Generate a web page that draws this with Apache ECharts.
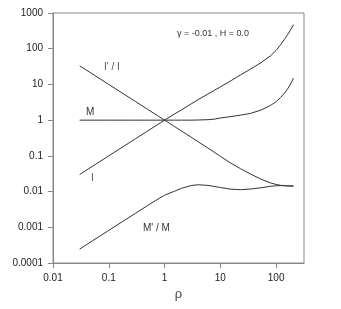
<!DOCTYPE html>
<html>
<head>
<meta charset="utf-8">
<script src="https://cdn.jsdelivr.net/npm/echarts@6/dist/echarts.min.js"></script>
<style>
html,body{margin:0;padding:0;background:#fff;}
#c{width:341px;height:309px;}
</style>
</head>
<body>
<div id="c"></div>
<script>
// rho values (x)
var rho = [0.03, 0.1, 0.3, 0.5, 0.7, 1, 1.5, 2, 3, 4, 6, 8, 10, 15, 23, 35, 54, 80, 100, 120, 140, 160, 180, 205];
// series values
var seriesI   = [0.03, 0.1, 0.3, 0.5, 0.7, 1, 1.48, 1.93, 2.85, 3.75, 5.4, 7.0, 8.5, 12.3, 18.5, 27, 41, 64, 90, 128, 180, 245, 330, 470];
var seriesM   = [1, 1, 1, 1, 1, 1, 1, 1, 1, 1.01, 1.03, 1.07, 1.15, 1.25, 1.38, 1.55, 1.92, 2.6, 3.3, 4.3, 5.6, 7.4, 10, 15];
var seriesIpI = [33.3, 10, 3.33, 2, 1.43, 1, 0.667, 0.5, 0.333, 0.249, 0.165, 0.123, 0.097, 0.0645, 0.0437, 0.0309, 0.0221, 0.0174, 0.0158, 0.0150, 0.01462, 0.01439, 0.01429, 0.01426];
var seriesMpM = [0.000245, 0.00082, 0.00245, 0.0041, 0.0057, 0.0079, 0.0102, 0.0123, 0.0148, 0.0155, 0.0149, 0.0138, 0.013, 0.0117, 0.0113, 0.0118, 0.0128, 0.0141, 0.0145, 0.0147, 0.0146, 0.0145, 0.0144, 0.0143];
// tick labels
var xTicks = ['0.01', '0.1', '1', '10', '100'];
var yTicks = ['0.0001', '0.001', '0.01', '0.1', '1', '10', '100', '1000'];
// text
var curveLabels = ["I' / I", 'M', 'I', "M' / M"];
var annotation = '\u03b3 = -0.01 , H = 0.0';
var xName = '\u03c1';

function pairs(ys){ return rho.map(function(x,i){ return [x, ys[i]]; }); }
function fmt(list){
  return function(v){
    var e = Math.round(Math.log10(v));
    var s = (e >= 0) ? String(Math.pow(10, e)) : (Math.pow(10, e)).toFixed(-e);
    return list.indexOf(s) >= 0 ? s : '';
  };
}

var axisColor = '#888';
var lineColor = '#333';
var font = 'Liberation Sans, Arial, sans-serif';

var chart = echarts.init(document.getElementById('c'), null, {renderer: 'canvas'});
function mkSeries(name, ys){
  return {
    name: name, type: 'line', data: pairs(ys), showSymbol: false, symbol: 'none',
    smooth: false,
    lineStyle: {color: lineColor, width: 1}, animation: false
  };
}
chart.setOption({
  animation: false,
  backgroundColor: '#fff',
  grid: {left: 53, right: 37, top: 13, bottom: 46, show: true, borderColor: axisColor, borderWidth: 1},
  xAxis: {
    type: 'log', min: 0.01, max: 316.2278, logBase: 10,
    name: xName, nameLocation: 'middle', nameGap: 25,
    nameTextStyle: {fontFamily: font, fontSize: 13, color: '#444'},
    axisLine: {show: true, lineStyle: {color: axisColor}},
    axisTick: {show: true, inside: false, length: 5, lineStyle: {color: axisColor}},
    axisLabel: {formatter: fmt(xTicks), fontFamily: font, fontSize: 10, color: '#222', margin: 10, showMaxLabel: false},
    splitLine: {show: false}, minorTick: {show: false}
  },
  yAxis: {
    type: 'log', min: 0.0001, max: 1000, logBase: 10,
    axisLine: {show: true, lineStyle: {color: axisColor}},
    axisTick: {show: true, inside: false, length: 5, lineStyle: {color: axisColor}},
    axisLabel: {formatter: fmt(yTicks), fontFamily: font, fontSize: 10, color: '#222', margin: 10},
    splitLine: {show: false}
  },
  series: [
    mkSeries('I', seriesI),
    mkSeries('M', seriesM),
    mkSeries("I'/I", seriesIpI),
    mkSeries("M'/M", seriesMpM)
  ],
  graphic: [
    {type: 'text', left: 104, top: 62, style: {text: curveLabels[0], fontFamily: font, fontSize: 10, fill: '#555'}},
    {type: 'text', left: 86, top: 107, style: {text: curveLabels[1], fontFamily: font, fontSize: 10, fill: '#333'}},
    {type: 'text', left: 91, top: 173, style: {text: curveLabels[2], fontFamily: font, fontSize: 10, fill: '#555'}},
    {type: 'text', left: 143, top: 223, style: {text: curveLabels[3], fontFamily: font, fontSize: 10, fill: '#333'}},
    {type: 'text', left: 177, top: 29, style: {text: annotation, fontFamily: font, fontSize: 9, fill: '#333'}}
  ]
});
</script>
</body>
</html>
